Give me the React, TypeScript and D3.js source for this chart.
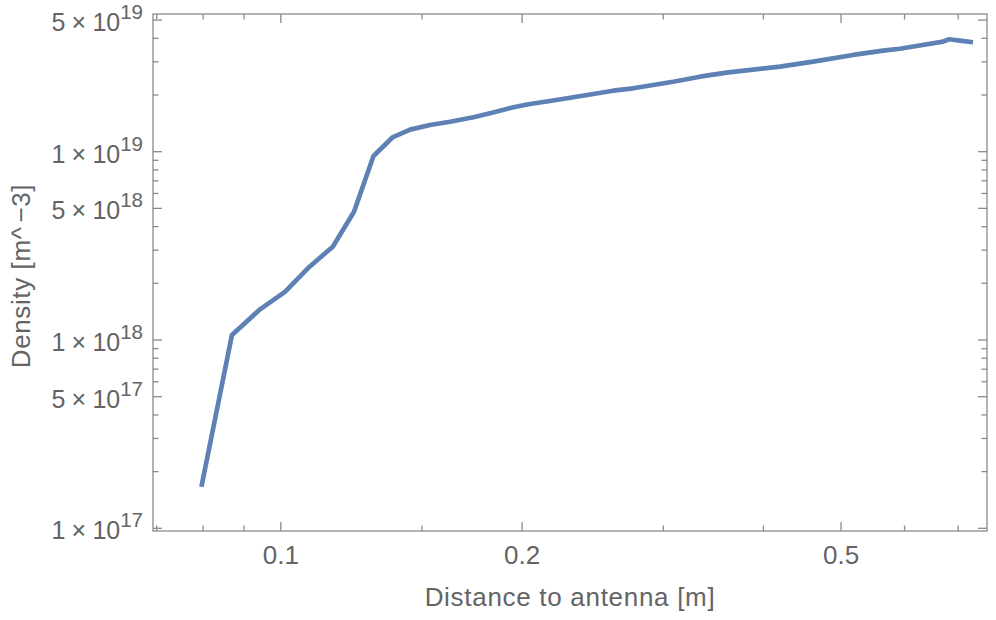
import React from "react";
import * as d3 from "d3";

const W = 996;
const H = 620;

// Data (distance [m], density [m^-3])
const distance = [
  0.0796, 0.0869, 0.0942, 0.1012, 0.1086, 0.1161, 0.1234, 0.1305, 0.1378, 0.145,
  0.1535, 0.1626, 0.1739, 0.1824, 0.195, 0.2046, 0.2167, 0.2317, 0.2454, 0.2598,
  0.275, 0.3087, 0.3333, 0.3598, 0.4195, 0.4615, 0.5176, 0.5642, 0.5918, 0.6209,
  0.6703, 0.682, 0.7031, 0.7305,
];
const density = [
  1.66e17, 1.063e18, 1.455e18, 1.8e18, 2.45e18, 3.13e18, 4.8e18, 9.49e18, 1.19e19, 1.31e19,
  1.386e19, 1.443e19, 1.523e19, 1.6e19, 1.721e19, 1.792e19, 1.859e19, 1.945e19, 2.025e19, 2.108e19,
  2.171e19, 2.353e19, 2.502e19, 2.628e19, 2.828e19, 3.006e19, 3.264e19, 3.439e19, 3.52e19, 3.642e19,
  3.839e19, 3.953e19, 3.886e19, 3.811e19,
];

const xMajorTicks = [0.1, 0.2, 0.5];
const xMajorLabels = ["0.1", "0.2", "0.5"];
const xMinorTicks = [0.07, 0.08, 0.09, 0.15, 0.3, 0.4, 0.6, 0.7];

const yMajorTicks = [1e17, 5e17, 1e18, 5e18, 1e19, 5e19];
const yMajorMantissa = ["1", "5", "1", "5", "1", "5"];
const yMajorExponent = ["17", "17", "18", "18", "19", "19"];
const yMinorTicks = [
  2e17, 3e17, 4e17, 6e17, 7e17, 8e17, 9e17,
  2e18, 3e18, 4e18, 6e18, 7e18, 8e18, 9e18,
  2e19, 3e19, 4e19,
];

const xTitle = "Distance to antenna [m]";
const yTitleA = "Density [m^";
const yTitleB = "\u22123]";

const L = 153, R = 987, T = 14, B = 531;
const FRAME = "#8a8a8a";
const TEXT = "#646464";
const LINE = "#5E81B5";
const FONT = "'Liberation Sans', Arial, sans-serif";

export default function App() {
  const x = d3.scaleLog().domain([0.06927, 0.7604]).range([L, R]);
  const y = d3.scaleLog().domain([9.676e16, 5.385e19]).range([B, T]);
  const pts: [number, number][] = distance.map((d, i) => [d, density[i]]);
  const line = d3
    .line<[number, number]>()
    .x((d) => x(d[0]))
    .y((d) => y(d[1]));

  const MAJ = 9;
  const MIN = 5.5;

  return (
    <svg
      width={W}
      height={H}
      style={{ position: "absolute", left: 0, top: 0, background: "#fff" }}
      fontFamily={FONT}
    >
      <rect x={0} y={0} width={W} height={H} fill="#fff" />
      <rect x={L} y={T} width={R - L} height={B - T} fill="none" stroke={FRAME} strokeWidth={1.3} />
      {xMajorTicks.map((t, i) => (
        <g key={"xM" + i} stroke={FRAME} strokeWidth={1.3}>
          <line x1={x(t)} x2={x(t)} y1={B} y2={B - MAJ} />
          <line x1={x(t)} x2={x(t)} y1={T} y2={T + MAJ} />
        </g>
      ))}
      {xMinorTicks.map((t, i) => (
        <g key={"xm" + i} stroke={FRAME} strokeWidth={1.3}>
          <line x1={x(t)} x2={x(t)} y1={B} y2={B - MIN} />
          <line x1={x(t)} x2={x(t)} y1={T} y2={T + MIN} />
        </g>
      ))}
      {yMajorTicks.map((t, i) => (
        <g key={"yM" + i} stroke={FRAME} strokeWidth={1.3}>
          <line x1={L} x2={L + MAJ} y1={y(t)} y2={y(t)} />
          <line x1={R} x2={R - MAJ} y1={y(t)} y2={y(t)} />
        </g>
      ))}
      {yMinorTicks.map((t, i) => (
        <g key={"ym" + i} stroke={FRAME} strokeWidth={1.3}>
          <line x1={L} x2={L + MIN} y1={y(t)} y2={y(t)} />
          <line x1={R} x2={R - MIN} y1={y(t)} y2={y(t)} />
        </g>
      ))}
      {xMajorTicks.map((t, i) => (
        <text key={"xl" + i} x={x(t)} y={564} textAnchor="middle" fontSize={26} fill={TEXT}>
          {xMajorLabels[i]}
        </text>
      ))}
      {yMajorTicks.map((t, i) => (
        <text key={"yl" + i} x={143} y={y(t) + 11} textAnchor="end" fontSize={25} fill={TEXT}>
          {yMajorMantissa[i] + "\u2005\u00d7\u200510"}
          <tspan dy={-12} fontSize={20.5}>
            {yMajorExponent[i]}
          </tspan>
        </text>
      ))}
      <path
        d={line(pts) || ""}
        fill="none"
        stroke={LINE}
        strokeWidth={4.7}
        strokeLinejoin="round"
        strokeLinecap="butt"
      />
      <text x={(L + R) / 2} y={606} textAnchor="middle" fontSize={26} fill={TEXT} letterSpacing={0.7}>
        {xTitle}
      </text>
      <text
        transform={`translate(30, 276) rotate(-90)`}
        textAnchor="middle"
        fontSize={26}
        fill={TEXT}
        letterSpacing={0.6}
      >
        {yTitleA}
        <tspan dx={4}>{yTitleB}</tspan>
      </text>
    </svg>
  );
}
